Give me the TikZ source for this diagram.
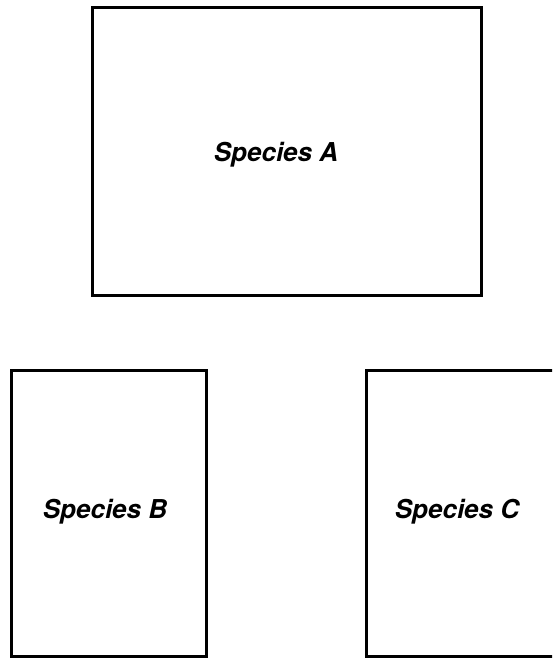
\documentclass[tikz,border=0pt]{standalone}
\usepackage{fontspec}
\setmainfont{TeX Gyre Heros}
\begin{document}
\begin{tikzpicture}[x=1pt,y=-1pt,
  box/.style={draw=black,line width=3pt,fill=none},
  lab/.style={font=\fontsize{26}{30}\selectfont\bfseries\itshape,inner sep=0pt}]
\useasboundingbox[clip] (0,0) rectangle (552,658);
\fill[white] (0,0) rectangle (552,658);
\draw[box] (92,8) rectangle (481,295);
\node[lab] (a) at (276,155) {Species A};
\draw[box] (11,370) rectangle (206,656);
\node[lab] (b) at (105,512) {Species B};
\draw[box] (366,370) rectangle (556,656);
\node[lab] (c) at (457,512) {Species C};
\end{tikzpicture}
\end{document}
